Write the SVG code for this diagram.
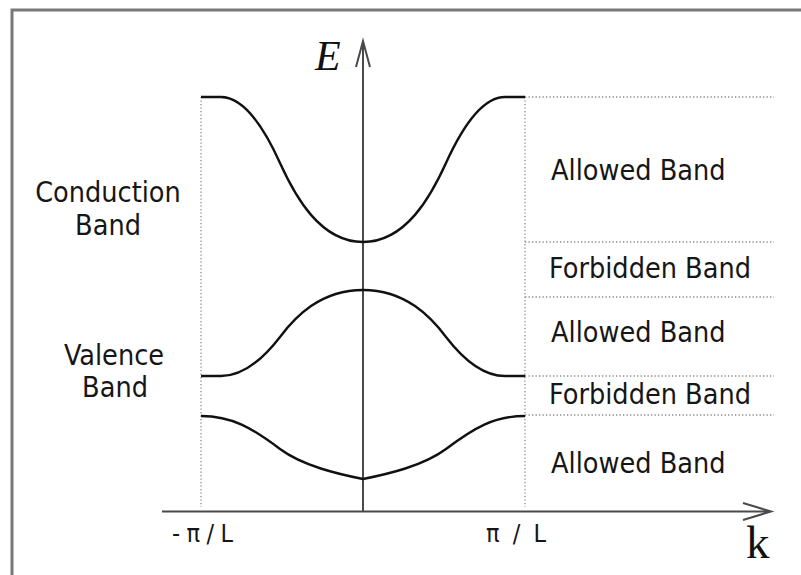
<svg xmlns="http://www.w3.org/2000/svg" width="801" height="575" viewBox="0 0 801 575">
<style>
  .lbl { font-family: "DejaVu Sans Condensed", "DejaVu Sans", sans-serif; font-stretch: condensed; font-size: 28.5px; fill: #161616; }
  .tick { font-family: "DejaVu Sans Condensed", "DejaVu Sans", sans-serif; font-stretch: condensed; font-size: 25px; fill: #161616; }
  .axis { stroke: #4a4a4a; stroke-width: 2; fill: none; }
  .curve { stroke: #111; stroke-width: 2.4; fill: none; stroke-linejoin: round; }
  .dot { stroke: #8a8a8a; stroke-width: 1.3; stroke-dasharray: 1.3 2.2; fill: none; }
</style>
<rect width="801" height="575" fill="#fff"/>
<path id="frame" d="M12,575 L12,10 L801,10" fill="none" stroke="#787878" stroke-width="3"/>
<g id="guides">
  <path class="dot" d="M201,97 V507 M525,97 V507"/>
  <path class="dot" d="M525,97 H774 M525,242 H774 M525,297 H774 M525,376 H774 M525,415 H774"/>
</g>
<g id="axes">
  <path class="axis" d="M363,512 V41 M356,67 L363,41 L370,67"/>
  <path class="axis" d="M162,511.5 H771 M743,503 L771,511.5 L743,520"/>
</g>
<g id="curves">
  <path id="conduction" class="curve" d="M201,97 L221,97 C245,97 265,130 280,163 C295,196 320,242 363,242 C406,242 431,196 446,163 C461,130 481,97 505,97 L525,97"/>
  <path id="valence" class="curve" d="M201,376 L221,376 C245,376 265,356.4 280,336.9 C295,317.3 320,290 363,290 C406,290 431,317.3 446,336.9 C461,356.4 481,376 505,376 L525,376"/>
  <path id="lower" class="curve" d="M201,416 C232,416 252,428 280,449 C303,466 338,474 363,479 C388,474 423,466 446,449 C474,428 494,416 525,416"/>
</g>
<g id="labels">
  <text class="lbl" x="108" y="202" text-anchor="middle">Conduction</text>
  <text class="lbl" x="108" y="235" text-anchor="middle">Band</text>
  <text class="lbl" x="114" y="365" text-anchor="middle">Valence</text>
  <text class="lbl" x="115" y="397" text-anchor="middle">Band</text>
  <text class="lbl" x="551" y="180">Allowed Band</text>
  <text class="lbl" x="549" y="278">Forbidden Band</text>
  <text class="lbl" x="551" y="342">Allowed Band</text>
  <text class="lbl" x="549" y="404">Forbidden Band</text>
  <text class="lbl" x="551" y="473">Allowed Band</text>
  <text class="tick" x="172" y="542" textLength="61" lengthAdjust="spacing">-π/L</text>
  <text class="tick" x="486" y="542" textLength="60" lengthAdjust="spacing">π/L</text>
  <text x="315" y="70" font-family="'Liberation Serif', serif" font-style="italic" font-size="42" fill="#111">E</text>
  <text x="746" y="558" font-family="'Liberation Serif', serif" font-size="47" fill="#111">k</text>
</g>
</svg>
